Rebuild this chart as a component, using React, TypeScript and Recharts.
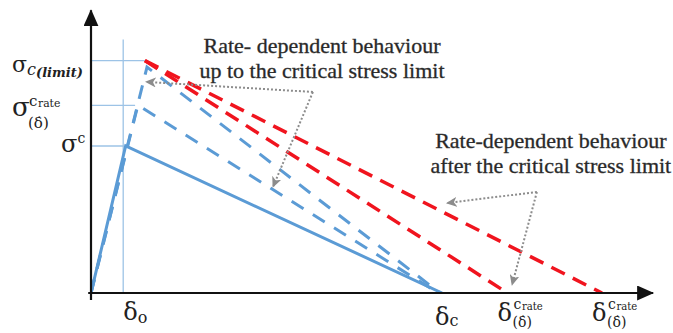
import React from "react";
import {
  LineChart,
  Line,
  XAxis,
  YAxis,
  ReferenceLine,
  ReferenceDot,
} from "recharts";

// displacement (x) and traction (y), arbitrary units
const deltaO = 0.92;
const deltaC = 10.03;
const deltaRateA = 11.9;
const deltaRateB = 14.6;
const sigmaC = 5.25;
const sigmaRate = 6.7;
const sigmaLimit = 8.3;

const xTicks = [deltaO, deltaC, deltaRateA, deltaRateB];
const yTicks = [sigmaC, sigmaRate, sigmaLimit];

const solidLaw = [
  { x: 0, y: 0 },
  { x: 0.99, y: 5.25 },
  { x: 10.03, y: 0 },
];
const dashedLawA = [
  { x: 0, y: 0 },
  { x: 1.34, y: 6.71 },
  { x: 9.92, y: 0 },
];
const dashedLawB = [
  { x: 0, y: 0 },
  { x: 1.6, y: 8.07 },
  { x: 9.97, y: 0 },
];
const redLawA = [
  { x: 1.54, y: 8.3 },
  { x: 11.9, y: 0 },
];
const redLawB = [
  { x: 1.54, y: 8.3 },
  { x: 14.6, y: 0 },
];

// thin guides from the axes to the peaks
const guideLines = [
  [{ x: deltaO, y: 0 }, { x: deltaO, y: 9.05 }],
  [{ x: 0, y: sigmaLimit }, { x: 1.54, y: sigmaLimit }],
  [{ x: 0, y: sigmaRate }, { x: 1.26, y: sigmaRate }],
  [{ x: 0, y: sigmaC }, { x: 0.95, y: sigmaC }],
];

const noteUpText = ["Rate- dependent behaviour", "up to the critical stress limit"];
const noteUpAt = { x: 6.6, y: 8.57 };
const noteUpCorner = { x: 6.34, y: 7.18 };
const noteUpTargets = [
  { x: 1.57, y: 7.54 },
  { x: 5.2, y: 3.79 },
];

const noteAfterText = ["Rate-dependent behaviour", "after the critical stress limit"];
const noteAfterAt = { x: 13.14, y: 5.18 };
const noteAfterCorner = { x: 12.74, y: 3.61 };
const noteAfterTargets = [
  { x: 10.17, y: 3.21 },
  { x: 12.03, y: 0.29 },
];

const BLUE = "#5b9bd5";
const RED = "#f0141e";
const GUIDE = "#9dc3e6";
const NOTE = "#8c8c8c";
const MATH = "DejaVu Serif, serif";
const TEXT = "Liberation Serif, Times New Roman, serif";

const arrowLine = (marker: string, stroke: string, width: number, dash?: string) =>
  (p: any) => (
    <line
      x1={p.x1}
      y1={p.y1}
      x2={p.x2}
      y2={p.y2}
      stroke={stroke}
      strokeWidth={width}
      strokeDasharray={dash}
      markerEnd={`url(#${marker})`}
    />
  );

const noteText = (lines: string[]) => (p: any) => (
  <text
    x={p.cx}
    y={p.cy}
    textAnchor="middle"
    fontFamily={TEXT}
    fontSize={22}
    fill="#262626"
    stroke="#3a3a3a"
    strokeWidth={0.35}
  >
    {lines.map((l, i) => (
      <tspan key={i} x={p.cx} dy={i === 0 ? 0 : 25}>
        {l}
      </tspan>
    ))}
  </text>
);

// symbol with a c_rate superscript and a (δ̇) subscript
const RateLabel = ({
  base,
  baseSize,
  supY,
  subY,
  subX,
  supSize,
  subSize,
}: {
  base: string;
  baseSize: number;
  supY: number;
  subY: number;
  subX: number;
  supSize: number;
  subSize: number;
}) => (
  <g fontFamily={MATH} fill="#222">
    <text x={0} y={0} fontSize={baseSize}>
      {base}
    </text>
    <text x={subX + 1} y={supY} fontSize={supSize}>
      c
    </text>
    <text x={subX + 1 + supSize * 0.6} y={supY + 1} fontSize={supSize * 0.72}>
      rate
    </text>
    <text x={subX} y={subY} fontSize={subSize}>
      (δ̇)
    </text>
  </g>
);

const DeltaTick = (props: any) => {
  const { x, y, index } = props;
  if (index === 0) {
    return (
      <text x={x} y={y + 27} fontFamily={MATH} fill="#222">
        <tspan fontSize={24}>δ</tspan>
        <tspan fontSize={16} dy={3}>o</tspan>
      </text>
    );
  }
  if (index === 1) {
    return (
      <text x={x - 7} y={y + 32} fontFamily={MATH} fill="#222">
        <tspan fontSize={24}>δ</tspan>
        <tspan fontSize={16} dy={1}>c</tspan>
      </text>
    );
  }
  return (
    <g transform={`translate(${x - 10},${y + 28})`}>
      <RateLabel
        base="δ"
        baseSize={24}
        supY={-12}
        subY={6}
        subX={15}
        supSize={14}
        subSize={14}
      />
    </g>
  );
};

const SigmaTick = (props: any) => {
  const { x, y, index } = props;
  if (index === 0) {
    return (
      <text x={x - 30} y={y + 6} fontFamily={MATH} fill="#222">
        <tspan fontSize={24}>σ</tspan>
        <tspan fontSize={14} dy={-9}>c</tspan>
      </text>
    );
  }
  if (index === 1) {
    return (
      <g transform={`translate(${x - 79},${y + 11})`}>
        <RateLabel
          base="σ"
          baseSize={26}
          supY={-10}
          subY={12}
          subX={16}
          supSize={15}
          subSize={15}
        />
      </g>
    );
  }
  return (
    <text x={x - 79} y={y + 11} fontFamily={MATH} fill="#222">
      <tspan fontSize={22}>σ</tspan>
      <tspan fontSize={16} fontStyle="italic" dy={3}>c</tspan>
      <tspan fontSize={13} fontStyle="italic" fontWeight="bold" dy={2}>
        (limit)
      </tspan>
    </text>
  );
};

export default function App() {
  return (
    <div
      style={{
        position: "absolute",
        left: 0,
        top: 0,
        width: 673,
        height: 333,
        background: "#fff",
      }}
    >
      <svg width={0} height={0} style={{ position: "absolute" }}>
        <defs>
          <marker
            id="axisHead"
            markerWidth={17}
            markerHeight={15}
            refX={16}
            refY={7.5}
            orient="auto"
            markerUnits="userSpaceOnUse"
          >
            <path d="M0,0 L17,7.5 L0,15 Z" fill="#111" />
          </marker>
          <marker
            id="noteHead"
            markerWidth={11}
            markerHeight={10}
            refX={10}
            refY={5}
            orient="auto"
            markerUnits="userSpaceOnUse"
          >
            <path d="M0,0 L11,5 L0,10 L3,5 Z" fill={NOTE} />
          </marker>
        </defs>
      </svg>
      <LineChart
        width={673}
        height={333}
        margin={{ top: 13, right: 22, bottom: 0, left: 0 }}
      >
        <XAxis
          type="number"
          dataKey="x"
          domain={[0, 16]}
          ticks={xTicks}
          tick={<DeltaTick />}
          axisLine={false}
          tickLine={false}
          tickSize={0}
          tickMargin={0}
          height={40}
          allowDataOverflow
        />
        <YAxis
          type="number"
          dataKey="y"
          domain={[0, 10]}
          ticks={yTicks}
          tick={<SigmaTick />}
          axisLine={false}
          tickLine={false}
          tickSize={0}
          tickMargin={0}
          width={91}
          allowDataOverflow
        />

        {guideLines.map((seg, i) => (
          <ReferenceLine
            key={i}
            segment={seg}
            stroke={GUIDE}
            strokeWidth={1.3}
            ifOverflow="visible"
          />
        ))}

        <Line data={redLawB} dataKey="y" stroke={RED} strokeWidth={3.5} strokeDasharray="15 9" dot={false} isAnimationActive={false} />
        <Line data={redLawA} dataKey="y" stroke={RED} strokeWidth={3.5} strokeDasharray="15 9" dot={false} isAnimationActive={false} />
        <Line data={dashedLawB} dataKey="y" stroke={BLUE} strokeWidth={3} strokeDasharray="14 11" dot={false} isAnimationActive={false} />
        <Line data={dashedLawA} dataKey="y" stroke={BLUE} strokeWidth={3} strokeDasharray="14 11" dot={false} isAnimationActive={false} />
        <Line data={solidLaw} dataKey="y" stroke={BLUE} strokeWidth={3} dot={false} isAnimationActive={false} />

        <ReferenceLine
          segment={[{ x: -0.08, y: 0 }, { x: 16.06, y: 0 }]}
          ifOverflow="visible"
          shape={arrowLine("axisHead", "#111", 2.2)}
        />
        <ReferenceLine
          segment={[{ x: 0, y: -0.25 }, { x: 0, y: 10.1 }]}
          ifOverflow="visible"
          shape={arrowLine("axisHead", "#111", 2.2)}
        />

        {noteUpTargets.map((t, i) => (
          <ReferenceLine
            key={`u${i}`}
            segment={[noteUpCorner, t]}
            ifOverflow="visible"
            shape={arrowLine("noteHead", NOTE, 2, "2 2")}
          />
        ))}
        {noteAfterTargets.map((t, i) => (
          <ReferenceLine
            key={`a${i}`}
            segment={[noteAfterCorner, t]}
            ifOverflow="visible"
            shape={arrowLine("noteHead", NOTE, 2, "2 2")}
          />
        ))}

        <ReferenceDot x={noteUpAt.x} y={noteUpAt.y} r={0} ifOverflow="visible" shape={noteText(noteUpText)} />
        <ReferenceDot x={noteAfterAt.x} y={noteAfterAt.y} r={0} ifOverflow="visible" shape={noteText(noteAfterText)} />
      </LineChart>
    </div>
  );
}
